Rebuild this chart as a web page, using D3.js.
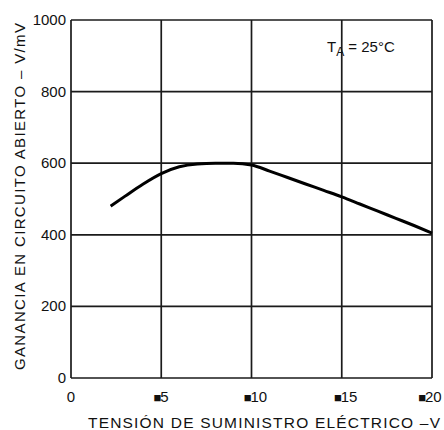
<!DOCTYPE html>
<html>
<head>
<meta charset="utf-8">
<script src="https://cdn.jsdelivr.net/npm/d3@7"></script>
<style>
  html, body { margin: 0; padding: 0; background: #fff; }
  svg text { font-family: "Liberation Sans", Arial, sans-serif; fill: #111; }
</style>
</head>
<body>
<div id="chart"></div>
<script>
// Supply voltage (V) and open-loop gain (V/mV)
const supplyVoltage = [2.2, 3, 4, 5, 6, 7, 8, 9, 10, 11, 12, 13, 14, 15, 16, 17, 18, 19, 20];
const openLoopGain = [480, 508, 542, 571, 590, 598, 600, 600, 595, 578, 560, 542, 524, 506, 486, 466, 446, 426, 405];
const xTicks = [0, 5, 10, 15, 20];
const yTicks = [0, 200, 400, 600, 800, 1000];

const width = 444, height = 430;
const margin = { top: 20, right: 12, bottom: 52, left: 71 };

const svg = d3.select('#chart')
  .append('svg')
  .attr('width', width)
  .attr('height', height);

const x = d3.scaleLinear().domain([0, 20]).range([margin.left, width - margin.right]);
const y = d3.scaleLinear().domain([0, 1000]).range([height - margin.bottom, margin.top]);

// Grid
svg.append('g')
  .selectAll('line')
  .data(xTicks)
  .enter()
  .append('line')
  .attr('x1', d => x(d)).attr('x2', d => x(d))
  .attr('y1', y(0)).attr('y2', y(1000))
  .attr('stroke', '#1a1a1a')
  .attr('stroke-width', 1.7);

svg.append('g')
  .selectAll('line')
  .data(yTicks)
  .enter()
  .append('line')
  .attr('x1', x(0)).attr('x2', x(20))
  .attr('y1', d => y(d)).attr('y2', d => y(d))
  .attr('stroke', '#1a1a1a')
  .attr('stroke-width', 1.7);

// Y tick labels
svg.append('g')
  .selectAll('text')
  .data(yTicks)
  .enter()
  .append('text')
  .attr('x', x(0) - 5)
  .attr('y', d => y(d) + 5)
  .attr('text-anchor', 'end')
  .attr('font-size', '15px')
  .text(d => d);

// X tick labels: digits start at the gridline, a small marker glyph sits just before them
// (the last one is pulled in so it stays inside the frame)
const numX = d => d === 0 ? x(d) : (d === 20 ? x(d) - 7 : x(d) - 1);
const xLab = svg.append('g');
xLab.selectAll('text.num')
  .data(xTicks)
  .enter()
  .append('text')
  .attr('class', 'num')
  .attr('x', numX)
  .attr('y', y(0) + 24)
  .attr('text-anchor', d => d === 0 ? 'middle' : 'start')
  .attr('font-size', '15px')
  .text(d => d);

xLab.selectAll('text.mark')
  .data(xTicks.filter(d => d !== 0))
  .enter()
  .append('text')
  .attr('class', 'mark')
  .attr('x', d => numX(d) + 1)
  .attr('y', y(0) + 24)
  .attr('text-anchor', 'end')
  .attr('font-size', '13px')
  .text('■');

// Curve
svg.append('path')
  .datum(supplyVoltage.map((v, i) => [v, openLoopGain[i]]))
  .attr('fill', 'none')
  .attr('stroke', '#000')
  .attr('stroke-width', 3)
  .attr('d', d3.line().x(d => x(d[0])).y(d => y(d[1])).curve(d3.curveMonotoneX));

// Annotation
const ann = svg.append('text')
  .attr('x', 327)
  .attr('y', 52)
  .attr('font-size', '15px');
ann.append('tspan').text('T');
ann.append('tspan').attr('font-size', '12px').attr('dy', 4).text('A');
ann.append('tspan').attr('dy', -4).text(' = 25°C');

// Axis titles
svg.append('text')
  .attr('x', 88)
  .attr('y', 428)
  .attr('font-size', '15.5px')
  .attr('textLength', 352)
  .attr('lengthAdjust', 'spacing')
  .text('TENSIÓN DE SUMINISTRO ELÉCTRICO –V');

svg.append('text')
  .attr('transform', 'translate(25, 370) rotate(-90)')
  .attr('font-size', '15px')
  .attr('textLength', 347)
  .attr('lengthAdjust', 'spacing')
  .text('GANANCIA EN CIRCUITO ABIERTO – V/mV');
</script>
</body>
</html>
